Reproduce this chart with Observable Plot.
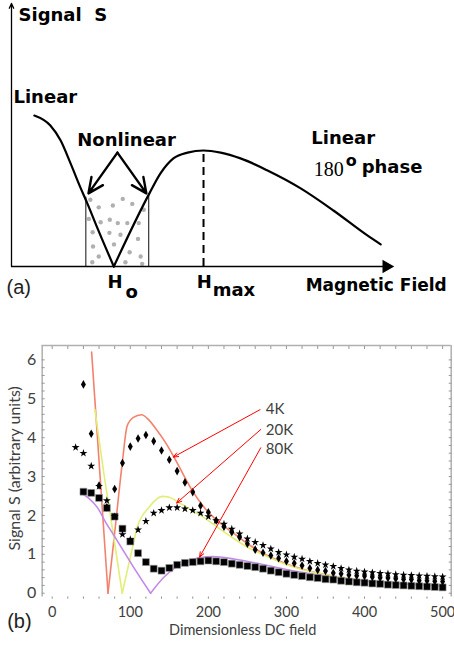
<!DOCTYPE html>
<html>
<head>
<meta charset="utf-8">
<script src="https://cdn.jsdelivr.net/npm/d3@7"></script>
<script src="https://cdn.jsdelivr.net/npm/@observablehq/plot@0.6"></script>
<style>
  body { margin: 0; background: #fff; }
  svg { display: block; }
</style>
</head>
<body>
<div id="chart"></div>
<script>
// ---------- Panel (a): schematic ----------
const aLeftX  = [6.0, 10.2, 12.9, 15.5, 18.1, 19.9, 22.5, 26.85];
const aLeftY  = [57.4, 53.6, 47.9, 39.2, 30.0, 24.0, 14.8, 0];
const aRightX = [26.85, 36.2, 39.1, 42.5, 46.2, 50.4, 54.9, 60.1, 67.2, 75.9, 84.5, 93.4, 96.9];
const aRightY = [0, 27.8, 35.4, 41.1, 43.3, 44.1, 43.3, 41.1, 36.5, 29.7, 21.3, 11.8, 8.4];
const nlBoundsX = [19.5, 36.0];
const nlBoundsTop = [26.3, 27.6];
const hmaxX = 50.4, hmaxY = 44.1;
const dotX = [20.7,22.9,26.6,29.2,31.7,34.7,20.3,23.4,25.8,27.9,30.4,33.4,21.3,25.7,28.6,33.2,21.4,26.9,31.0,33.9,22.9,21.2,29.9,34.3];
const dotY = [25.4,22.5,23.2,25.7,23.8,21.6,18.1,16.8,17.8,16.5,16.5,16.5,13.0,12.8,12.1,10.5,7.6,8.4,5.4,3.8,3.8,1.6,1.6,1.0];
const nlArrowFrom = [27.8, 43.3];
const nlArrowToX = [20.2, 35.4];
const nlArrowToY = [27.8, 27.8];
const aLabels = ["Signal  S", "Linear", "Linear", "phase", "H", "H"];
const aLabelX = [1.84, 0.52, 78.7, 91.9, 25.2, 48.6];
const aLabelY = [93.5, 62.0, 46.6, 35.7, -8.0, -8.0];
const aSubs = ["o", "max"];
const aSubX = [29.9, 52.8];
const aSubY = [-11.8, -11.4];
const degLabel = "o", degX = 87.7, degY = 38.4;
const fieldLabel = "Magnetic Field", fieldLabelX = 77.2, fieldLabelY = -9.5;

// ---------- Panel (b): data ----------
const field = [40,50,60,70,80,90,100,110,120,130,140,150,160,170,180,190,200,210,220,230,240,250,260,270,280,290,300,310,320,330,340,350,360,370,380,390,400,410,420,430,440,450,460,470,480,490,500];
const field20K = [30,40,50,60,70,80,90,100,110,120,130,140,150,160,170,180,190,200,210,220,230,240,250,260,270,280,290,300,310,320,330,340,350,360,370,380,390,400,410,420,430,440,450,460,470,480,490,500];
const pts4K = [5.37,4.10,2.77,2.21,2.68,3.35,3.77,3.98,4.07,3.91,3.67,3.43,3.14,2.85,2.60,2.25,2.08,1.87,1.71,1.57,1.44,1.27,1.12,1.04,0.97,0.90,0.82,0.77,0.71,0.64,0.60,0.57,0.52,0.50,0.47,0.45,0.44,0.42,0.40,0.39,0.37,0.36,0.35,0.33,0.32,0.31,0.30];
const pts20K = [3.75,3.60,3.27,2.75,2.38,1.97,1.51,1.38,1.63,1.85,2.06,2.13,2.20,2.20,2.17,2.13,2.06,1.97,1.87,1.78,1.65,1.53,1.40,1.31,1.23,1.14,1.05,0.99,0.93,0.88,0.82,0.77,0.73,0.69,0.64,0.60,0.57,0.55,0.53,0.51,0.50,0.48,0.47,0.46,0.45,0.44,0.43,0.42];
const pts80K = [2.61,2.58,2.45,2.19,1.97,1.66,1.33,1.03,0.80,0.63,0.58,0.65,0.73,0.78,0.80,0.82,0.84,0.82,0.80,0.76,0.73,0.70,0.67,0.63,0.58,0.54,0.50,0.47,0.44,0.41,0.39,0.36,0.35,0.32,0.30,0.28,0.27,0.25,0.24,0.22,0.21,0.20,0.19,0.18,0.17,0.16,0.15];

// model curves (two branches each, joined at the zero)
const fit4K_aX = [50.5, 71.5];
const fit4K_aY = [6.2, 0];
const fit4K_bX = [71.5, 80, 89.7, 96, 104, 114.5, 124, 132, 145, 156, 168, 180, 195, 211, 233, 254, 267, 297, 340, 395, 450, 500];
const fit4K_bY = [0, 1.55, 3.34, 4.3, 4.52, 4.59, 4.45, 4.25, 3.88, 3.5, 3.05, 2.62, 2.2, 1.87, 1.53, 1.22, 1.06, 0.78, 0.52, 0.34, 0.25, 0.19];
const fit20K_aX = [54.7, 66, 78, 89.7];
const fit20K_aY = [4.72, 3.1, 1.55, 0];
const fit20K_bX = [89.7, 100, 109, 124, 141, 150, 160, 175, 190, 211.5, 233, 254, 267, 297, 340, 395, 450, 500];
const fit20K_bY = [0, 0.92, 1.70, 2.21, 2.49, 2.47, 2.36, 2.18, 2.0, 1.70, 1.40, 1.14, 1.02, 0.76, 0.51, 0.34, 0.25, 0.19];
const fit80K_aX = [36.3, 47, 58, 68.3, 79, 89.7, 107, 126];
const fit80K_aY = [2.58, 2.44, 2.2, 1.83, 1.49, 1.14, 0.58, 0];
const fit80K_bX = [126, 143, 155, 168.7, 180, 190, 205, 215, 233, 267, 300, 350, 395, 450, 500];
const fit80K_bY = [0, 0.41, 0.62, 0.77, 0.87, 0.92, 0.94, 0.93, 0.88, 0.75, 0.61, 0.44, 0.32, 0.24, 0.19];

const tempLabels = ["4K", "20K", "80K"];
const tempLabelY = [4.72, 4.20, 3.71];
const tempLabelX = 273.5;
const arrowX1 = [266.2, 267.1, 267.1];
const arrowY1 = [4.72, 4.21, 3.74];
const arrowX2 = [155.1, 159.4, 188.8];
const arrowY2 = [3.50, 2.32, 0.93];

const yTicks = [0, 1, 2, 3, 4, 5, 6];
const xTicks = [0, 100, 200, 300, 400, 500];
const xDomB = [-12.8, 511];
const yDomB = [-0.1, 6.37];

const colors = {"4K": "#f2826d", "20K": "#e2ee78", "80K": "#c488ea"};

const rows = (xs, ys) => xs.map((x, i) => ({x, y: ys[i]}));

// ---------- Panel (a) plot ----------
const curveRows = [
  ...rows(aLeftX, aLeftY).map(d => ({...d, seg: "L"})),
  ...rows(aRightX, aRightY).map(d => ({...d, seg: "R"}))
];
const boldFont = {fontFamily: "DejaVu Sans", fontWeight: "bold", fill: "black"};

const plotA = Plot.plot({
  width: 454, height: 330,
  marginLeft: 11, marginRight: 62, marginTop: 3, marginBottom: 64,
  x: {domain: [0, 100], axis: null},
  y: {domain: [0, 100], axis: null},
  style: {background: "white"},
  marks: [
    Plot.dot(rows(dotX, dotY), {x: "x", y: "y", r: 2.2, fill: "#b0b0b0"}),
    Plot.ruleX(nlBoundsX, {y1: 0, y2: (d, i) => nlBoundsTop[i], stroke: "#444", strokeWidth: 1.3}),
    Plot.ruleX([hmaxX], {y1: 0, y2: hmaxY, stroke: "black", strokeWidth: 2, strokeDasharray: "8,5"}),
    Plot.line(curveRows, {x: "x", y: "y", z: "seg", curve: "monotone-x", stroke: "black", strokeWidth: 2.2}),
    Plot.arrow(nlArrowToX, {x1: nlArrowFrom[0], y1: nlArrowFrom[1], x2: d => d, y2: (d, i) => nlArrowToY[i],
      stroke: "black", strokeWidth: 2.4, headLength: 12, headAngle: 50}),
    // axes
    Plot.arrow([0], {x1: 0, y1: 0, x2: 0, y2: 100, stroke: "black", strokeWidth: 1.3, headLength: 6, headAngle: 50}),
    Plot.link([0], {x1: 0, y1: 0, x2: 98, y2: 0, stroke: "black", strokeWidth: 1.5}),
    Plot.dot([98.4], {x: d => d, y: [0], symbol: "triangle2", r: 6.5, rotate: 90, fill: "black"}),
    // labels
    Plot.text(aLabels, {x: (d, i) => aLabelX[i], y: (d, i) => aLabelY[i], text: d => d, textAnchor: "start", lineAnchor: "bottom", fontSize: 18, ...boldFont}),
    Plot.text(["Nonlinear"], {x: 30.2, y: 46.0, textAnchor: "middle", lineAnchor: "bottom", fontSize: 18, ...boldFont}),
    Plot.text(aSubs, {x: (d, i) => aSubX[i], y: (d, i) => aSubY[i], text: d => d, textAnchor: "start", lineAnchor: "bottom", fontSize: 18, ...boldFont}),
    Plot.text([degLabel], {x: degX, y: degY, textAnchor: "start", lineAnchor: "bottom", fontSize: 16, ...boldFont}),
    Plot.text([fieldLabel], {x: fieldLabelX, y: fieldLabelY, textAnchor: "start", lineAnchor: "bottom", fontSize: 17, ...boldFont}),
    Plot.text(["180"], {x: 79.3, y: 34.6, textAnchor: "start", lineAnchor: "bottom", fontSize: 20, fontFamily: "Liberation Serif", fill: "black"}),
    Plot.text(["(a)"], {x: -1.3, y: -10.5, textAnchor: "start", lineAnchor: "bottom", fontSize: 20, fontFamily: "Liberation Sans", fill: "#222"})
  ]
});

// ---------- Panel (b) plot ----------
const fitMark = (xs, ys, key) => Plot.line(rows(xs, ys), {x: "x", y: "y", curve: "monotone-x", stroke: colors[key], strokeWidth: 1.6});
const yMinor = d3.range(0, 6.01, 0.2);
const xMinor = d3.range(0, 501, 20);
const frameColor = "#b0b0b0";
const textColor = "#404040";

const plotB = Plot.plot({
  width: 454, height: 316,
  marginLeft: 41.7, marginRight: 3.3, marginTop: 15, marginBottom: 49.4,
  x: {domain: xDomB},
  y: {domain: yDomB},
  style: {background: "white", fontFamily: "Lato", color: textColor},
  marks: [
    Plot.ruleX([xDomB[0], xDomB[1]], {stroke: frameColor, strokeWidth: 1.5}),
    Plot.ruleY([yDomB[1]], {stroke: frameColor, strokeWidth: 1.5}),
    Plot.axisY(yMinor, {anchor: "left", tickSize: -3, tickFormat: () => "", stroke: "#999", label: null}),
    Plot.axisY(yMinor, {anchor: "right", tickSize: -3, tickFormat: () => "", stroke: "#999", label: null}),
    Plot.axisX(xMinor, {anchor: "top", tickSize: -3, tickFormat: () => "", stroke: "#999", label: null}),
    Plot.axisX(xMinor, {anchor: "bottom", tickSize: 2, tickFormat: () => "", stroke: "#888", label: null}),
    Plot.axisY(yTicks, {anchor: "left", tickSize: 0, tickPadding: 6, fontSize: 16, fill: textColor, label: null}),
    Plot.axisX(xTicks, {anchor: "bottom", tickSize: 0, tickPadding: 10, fontSize: 14.5, fill: textColor, label: null}),
    fitMark(fit4K_aX, fit4K_aY, "4K"), fitMark(fit4K_bX, fit4K_bY, "4K"),
    fitMark(fit20K_aX, fit20K_aY, "20K"), fitMark(fit20K_bX, fit20K_bY, "20K"),
    fitMark(fit80K_aX, fit80K_aY, "80K"), fitMark(fit80K_bX, fit80K_bY, "80K"),
    Plot.dot(rows(field, pts80K), {x: "x", y: "y", symbol: "square", r: 3.9, fill: "black", stroke: "#999", strokeWidth: 0.6}),
    Plot.dot(rows(field, pts4K), {x: "x", y: "y", symbol: "diamond", r: 2.6, fill: "black"}),
    Plot.dot(rows(field20K, pts20K), {x: "x", y: "y", symbol: "star", r: 2.5, fill: "black"}),
    Plot.arrow(arrowX1, {x1: d => d, y1: (d, i) => arrowY1[i], x2: (d, i) => arrowX2[i], y2: (d, i) => arrowY2[i],
      stroke: "#ff0000", strokeWidth: 1, headLength: 8, headAngle: 45}),
    Plot.text(tempLabels, {x: tempLabelX, y: (d, i) => tempLabelY[i], text: d => d, textAnchor: "start", lineAnchor: "middle", fontSize: 15, fill: textColor}),
    Plot.text(["Signal S (arbitrary units)"], {x: -48.3, y: 3.21, rotate: -90, fontSize: 16, fill: textColor}),
    Plot.text(["Dimensionless DC field"], {x: 244, y: -0.96, fontSize: 14.5, fill: textColor}),
    Plot.text(["(b)"], {x: -57.7, y: -0.73, textAnchor: "start", lineAnchor: "middle", fontSize: 20, fontFamily: "Liberation Sans", fill: "#222"})
  ]
});

const chart = document.getElementById("chart");
chart.appendChild(plotA);
chart.appendChild(plotB);
</script>
</body>
</html>
